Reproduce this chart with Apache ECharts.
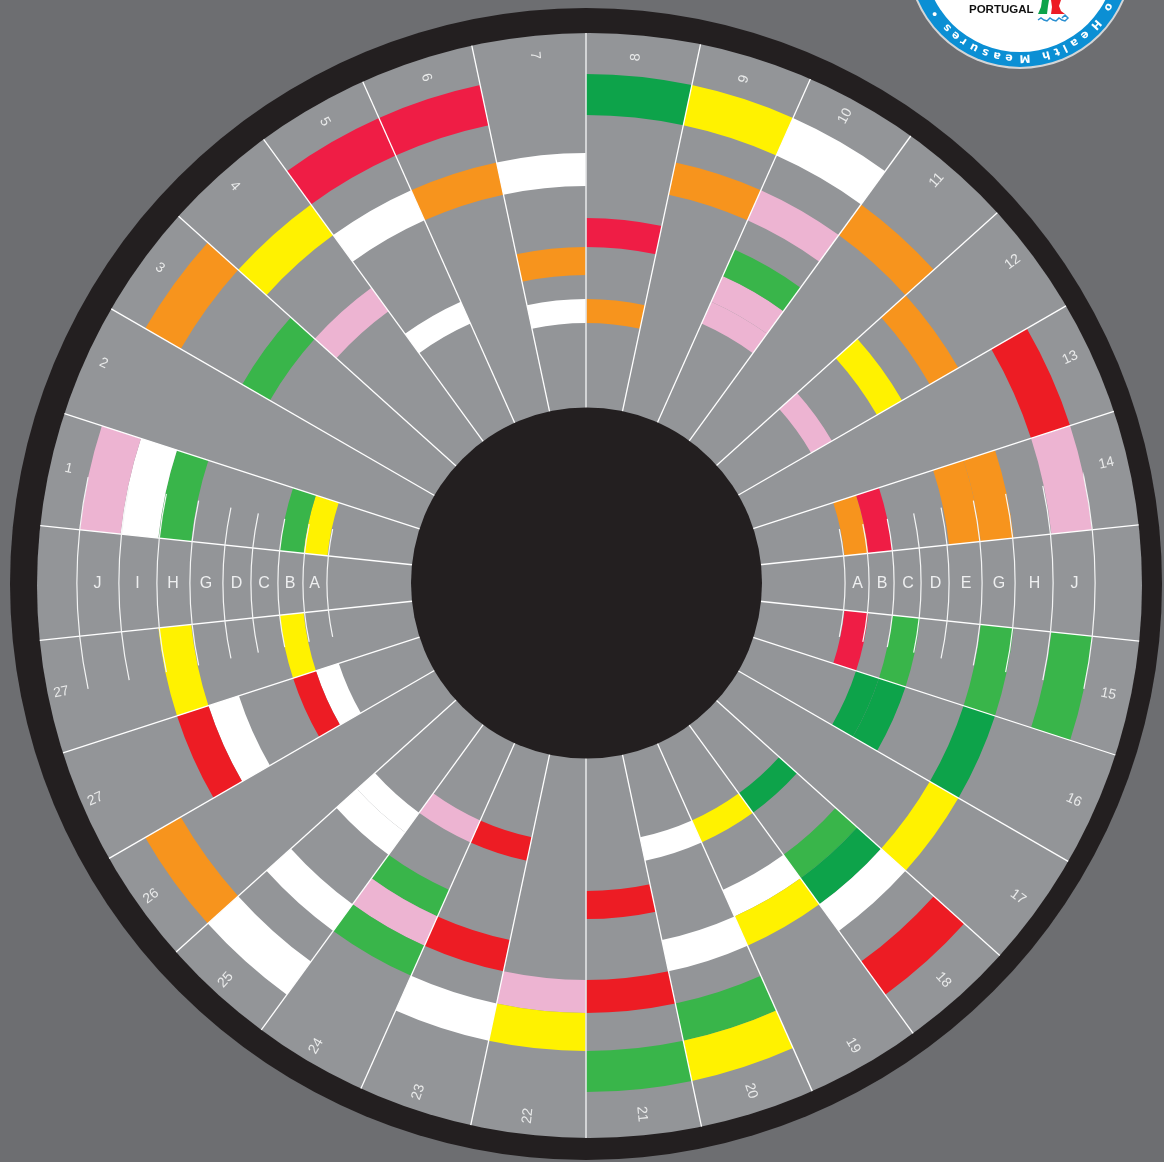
<!DOCTYPE html>
<html>
<head>
<meta charset="utf-8">
<style>html,body{margin:0;padding:0;background:#6d6e71}#c{width:1164px;height:1162px}</style>
<script src="https://cdn.jsdelivr.net/npm/echarts@6/dist/echarts.min.js"></script>
</head>
<body>
<div id="c"></div>
<script>
// Sector labels, clockwise from 12 o'clock; '' marks the two lettered bands.
const sectorLabels = ['8','9','10','11','12','13','14','','15','16','17','18','19','20','21',
  '22','23','24','25','26','27','27','','1','2','3','4','5','6','7'];
const lettersRight = ['A','B','C','D','E','G','H','J'];
const lettersLeft  = ['A','B','C','D','G','H','I','J'];
const ringEdges = [259,283,308,335,363,396,429,467,509];   // drawn arcs
const bandEdges = [260,284,308,336,365,397,430,468,509];   // coloured bands

// [sector position, colour key] for each ring, inner to outer
const ringA = [[0,'o'],[4,'p'],[6,'o'],[8,'c'],[11,'d'],[12,'y'],[13,'w'],[16,'r'],[17,'p'],[20,'w'],[23,'y'],[29,'w']];
const ringB = [[2,'p'],[6,'c'],[9,'d'],[18,'w'],[20,'r'],[21,'y'],[23,'g'],[27,'w']];
const ringC = [[2,'p'],[8,'g'],[9,'d'],[14,'r'],[18,'w'],[29,'o']];
const ringD = [[0,'c'],[2,'g'],[4,'y'],[11,'g'],[12,'w'],[17,'g'],[26,'p']];
const ringE = [[6,'o'],[11,'d'],[12,'y'],[13,'w'],[16,'r'],[17,'p'],[20,'w'],[25,'g']];
const ringG = [[1,'o'],[2,'p'],[4,'o'],[6,'o'],[8,'g'],[9,'d'],[10,'y'],[11,'w'],[14,'r'],[15,'p'],[17,'g'],[18,'w'],[20,'r'],[21,'y'],[23,'g'],[27,'w'],[28,'o'],[29,'w']];
const ringH = [[3,'o'],[13,'g'],[15,'y'],[16,'w'],[23,'w'],[26,'y']];
const ringJ = [[0,'d'],[1,'y'],[2,'w'],[5,'r'],[6,'p'],[8,'g'],[11,'r'],[13,'y'],[14,'g'],[18,'w'],[19,'o'],[23,'p'],[25,'o'],[27,'c'],[28,'c']];
const rings = [ringA,ringB,ringC,ringD,ringE,ringG,ringH,ringJ];

const palette = {o:'#f7941d',p:'#edb4d2',c:'#ef1d45',r:'#ed1c24',g:'#39b54a',d:'#0da34a',y:'#fff200',w:'#ffffff'};

const badgeLetters = ['•','s','e','r','u','s','a','e','M','h','t','l','a','e','H','o'];
const badgeAngles  = [-55.8,-45.4,-39,-33.5,-26.6,-19.8,-13,-6.2,2.8,14.7,21,26,32,39.4,48,60];

// ---- tables for the series
const cells = [];
rings.forEach((ring,i)=>ring.forEach(([s,k])=>cells.push([bandEdges[i],bandEdges[i+1],s,s+1,palette[k]])));
const spokes = sectorLabels.map((_,i)=>[i]);
const arcs = [];
ringEdges.forEach(r=>{arcs.push([r,6.5,8.5]);arcs.push([r,21.5,23.5]);});
function labelRadius(i){return i<=1?528:i<=14?534:i<=21?536:530;}
function labelShift(i){return i<=1?-0.05:i<=6?-0.08:i<=14?0:i<=21?0.02:0.04;}
const sectorText = [];
sectorLabels.forEach((t,i)=>{if(t)sectorText.push([labelRadius(i),i+0.5+labelShift(i),t]);});
const bandText = [];
lettersRight.forEach((t,i)=>bandText.push([(ringEdges[i]+ringEdges[i+1])/2+0.5,7.5,t]));
lettersLeft.forEach((t,i)=>bandText.push([(ringEdges[i]+ringEdges[i+1])/2+0.5,22.5,t]));

const CX=586, CY=583;
const disc={x:589.5,y:585.5,r:552.5};

function ang(api,r,a,cs){const p=api.coord([r,a]);return Math.atan2(p[1]-cs.cy,p[0]-cs.cx);}
function arcAngles(api,r,a0,a1,cs){let s=ang(api,r,a0,cs),e=ang(api,r,a1,cs);if(e<s)e+=Math.PI*2;return [s,e];}
function radPx(api,r,a,cs){const p=api.coord([r,a]);return Math.hypot(p[0]-cs.cx,p[1]-cs.cy);}

const FONT='"Liberation Sans", Arial, Helvetica, sans-serif';

const badge=[];
badgeLetters.forEach((t,i)=>{
  const th=badgeAngles[i]*Math.PI/180;
  badge.push({type:'text',z:21,x:1020+102*Math.sin(th),y:-44+102*Math.cos(th),rotation:th+Math.PI,
    style:{text:t,fill:'#fff',font:'bold 11px "DejaVu Sans", sans-serif',align:'center',verticalAlign:'middle',textAlign:'center',textVerticalAlign:'middle'}});
});

const option={
  animation:false,
  backgroundColor:'#6d6e71',
  polar:{center:[CX,CY],radius:[0,600]},
  angleAxis:{type:'value',min:0,max:30,interval:1,startAngle:90,clockwise:true,show:false},
  radiusAxis:{type:'value',min:0,max:600,show:false},
  graphic:{elements:[
    {type:'circle',z:0,shape:{cx:586,cy:584,r:576},style:{fill:'#231f20'}},
    {type:'circle',z:1,shape:{cx:disc.x,cy:disc.y,r:disc.r},style:{fill:'#939598'}},
    {type:'circle',z:20,shape:{cx:586.5,cy:583,r:175.5},style:{fill:'#231f20'}},
    {type:'circle',z:20,shape:{cx:1020,cy:-44,r:113},style:{fill:'#d4d5d6'}},
    {type:'circle',z:20,shape:{cx:1020,cy:-44,r:111},style:{fill:'#0b8fd4'}},
    {type:'circle',z:20,shape:{cx:1020,cy:-44,r:96},style:{fill:'#ffffff'}},
    {type:'text',z:21,x:969,y:10,style:{text:'PORTUGAL',fill:'#111',font:'bold 11.5px '+FONT,verticalAlign:'middle',textVerticalAlign:'middle'}},
    {type:'polygon',z:21,shape:{points:[[1042,0],[1049,0],[1048,6],[1047,14],[1038,14],[1041,7]]},style:{fill:'#0da34a'}},
    {type:'polygon',z:21,shape:{points:[[1051,0],[1061,0],[1059,6],[1061,11],[1065,14],[1051,14],[1052,7]]},style:{fill:'#ed1c24'}},
    {type:'polyline',z:21,shape:{points:[[1038,20],[1041,18],[1044,20],[1047,21],[1050,18],[1053,20],[1056,21],[1059,18],[1062,20],[1065,21],[1068,18],[1065,15],[1062,18]]},style:{stroke:'#2a8fd0',fill:null,lineWidth:1.5}},
    ...badge
  ]},
  series:[
    {type:'custom',coordinateSystem:'polar',z:3,silent:true,clip:false,
      encode:{radius:0,angle:2},data:cells.map(c=>c.slice(0,4)),
      renderItem(params,api){
        const cs=params.coordSys,c=cells[params.dataIndex];
        const [s,e]=arcAngles(api,c[1],c[2],c[3],cs);
        return {type:'sector',shape:{cx:cs.cx,cy:cs.cy,r0:radPx(api,c[0],c[2],cs),r:radPx(api,c[1],c[2],cs),startAngle:s,endAngle:e,clockwise:true},style:{fill:c[4]}};
      }},
    {type:'custom',coordinateSystem:'polar',z:4,silent:true,clip:false,
      encode:{angle:0},data:spokes,
      renderItem(params,api){
        const cs=params.coordSys,i=params.dataIndex;
        const a=ang(api,300,i,cs),dx=Math.cos(a),dy=Math.sin(a);
        // the spoke stops where it meets the edge of the grey disc
        const ox=cs.cx-disc.x,oy=cs.cy-disc.y,b=ox*dx+oy*dy,t=-b+Math.sqrt(b*b-(ox*ox+oy*oy-disc.r*disc.r));
        const p0=api.coord([170,i]);
        return {type:'line',shape:{x1:p0[0],y1:p0[1],x2:cs.cx+dx*t,y2:cs.cy+dy*t},
          style:{stroke:i===0||i===15?'#e4e5e6':'#ffffff',lineWidth:i===0||i===15?1.6:1.3}};
      }},
    {type:'custom',coordinateSystem:'polar',z:5,silent:true,clip:false,
      encode:{radius:0,angle:1},data:arcs,
      renderItem(params,api){
        const cs=params.coordSys,c=arcs[params.dataIndex];
        const [s,e]=arcAngles(api,c[0],c[1],c[2],cs);
        return {type:'arc',shape:{cx:cs.cx,cy:cs.cy,r:radPx(api,c[0],c[1],cs),startAngle:s,endAngle:e,clockwise:true},style:{stroke:'#f4f5f5',fill:null,lineWidth:1.2}};
      }},
    {type:'custom',coordinateSystem:'polar',z:6,silent:true,clip:false,
      encode:{radius:0,angle:1},data:sectorText.map(d=>d.slice(0,2)),
      renderItem(params,api){
        const cs=params.coordSys,d=sectorText[params.dataIndex];
        const p=api.coord([d[0],d[1]]);
        const out=Math.atan2(-(p[1]-cs.cy),p[0]-cs.cx); // radial direction, ccw from +x
        const rot=(p[0]>=cs.cx)?out:out+Math.PI;
        return {type:'text',x:p[0],y:p[1],rotation:rot,style:{text:d[2],fill:'#e9eaea',font:'14px '+FONT,align:'center',verticalAlign:'middle',textAlign:'center',textVerticalAlign:'middle'}};
      }},
    {type:'custom',coordinateSystem:'polar',z:6,silent:true,clip:false,
      encode:{radius:0,angle:1},data:bandText.map(d=>d.slice(0,2)),
      renderItem(params,api){
        const d=bandText[params.dataIndex];
        const p=api.coord([d[0],d[1]]);
        return {type:'text',x:p[0],y:p[1]+1,style:{text:d[2],fill:'#eeeff0',font:'16px '+FONT,align:'center',verticalAlign:'middle',textAlign:'center',textVerticalAlign:'middle'}};
      }}
  ]
};
echarts.init(document.getElementById('c'),null,{renderer:'canvas'}).setOption(option);
</script>
</body>
</html>
